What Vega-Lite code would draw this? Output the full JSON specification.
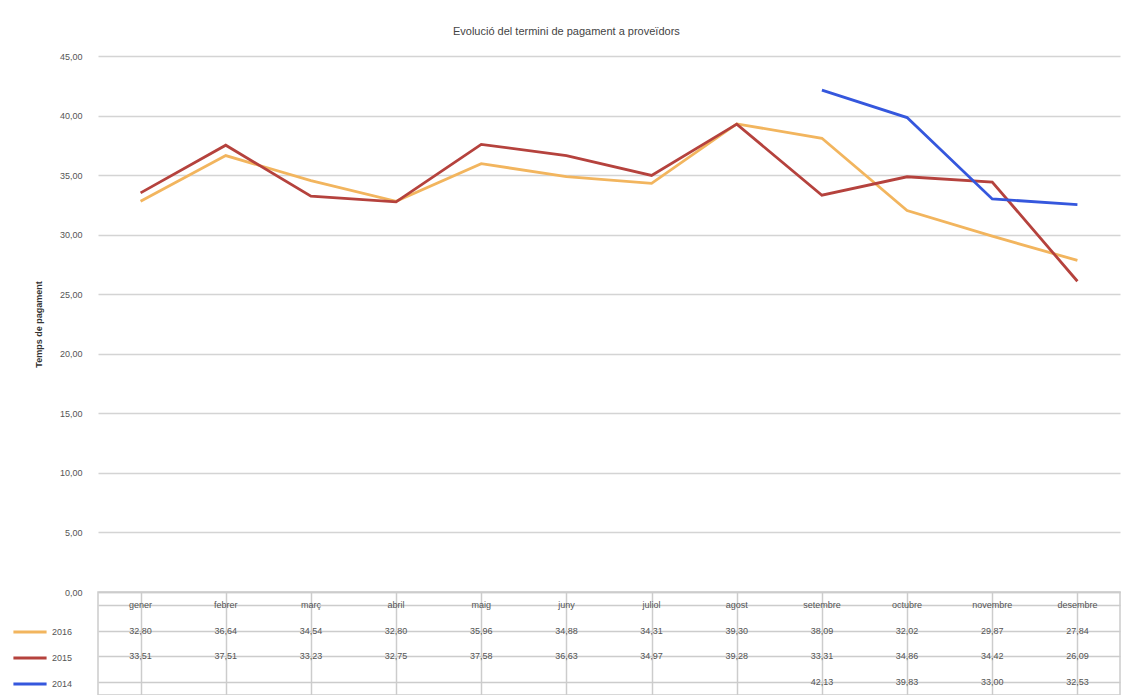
{
  "$schema": "https://vega.github.io/schema/vega-lite/v6.json",
  "background": "white",
  "padding": {"left": 12, "top": 26, "right": 5, "bottom": 0},
  "spacing": 0,
  "bounds": "flush",
  "config": {
    "locale": {"number": {"decimal": ",", "thousands": ".", "grouping": [3], "currency": ["", " €"]}},
    "font": "Liberation Sans",
    "view": {"stroke": null}
  },
  "title": {"text": "Evolució del termini de pagament a proveïdors", "fontSize": 11, "fontWeight": "normal", "color": "#444444", "anchor": "middle", "offset": 15},
  "datasets": {
    "pmp": [
      {"mes": "gener", "any": "2016", "dies": 32.80},
      {"mes": "febrer", "any": "2016", "dies": 36.64},
      {"mes": "març", "any": "2016", "dies": 34.54},
      {"mes": "abril", "any": "2016", "dies": 32.80},
      {"mes": "maig", "any": "2016", "dies": 35.96},
      {"mes": "juny", "any": "2016", "dies": 34.88},
      {"mes": "juliol", "any": "2016", "dies": 34.31},
      {"mes": "agost", "any": "2016", "dies": 39.30},
      {"mes": "setembre", "any": "2016", "dies": 38.09},
      {"mes": "octubre", "any": "2016", "dies": 32.02},
      {"mes": "novembre", "any": "2016", "dies": 29.87},
      {"mes": "desembre", "any": "2016", "dies": 27.84},
      {"mes": "gener", "any": "2015", "dies": 33.51},
      {"mes": "febrer", "any": "2015", "dies": 37.51},
      {"mes": "març", "any": "2015", "dies": 33.23},
      {"mes": "abril", "any": "2015", "dies": 32.75},
      {"mes": "maig", "any": "2015", "dies": 37.58},
      {"mes": "juny", "any": "2015", "dies": 36.63},
      {"mes": "juliol", "any": "2015", "dies": 34.97},
      {"mes": "agost", "any": "2015", "dies": 39.28},
      {"mes": "setembre", "any": "2015", "dies": 33.31},
      {"mes": "octubre", "any": "2015", "dies": 34.86},
      {"mes": "novembre", "any": "2015", "dies": 34.42},
      {"mes": "desembre", "any": "2015", "dies": 26.09},
      {"mes": "setembre", "any": "2014", "dies": 42.13},
      {"mes": "octubre", "any": "2014", "dies": 39.83},
      {"mes": "novembre", "any": "2014", "dies": 33.00},
      {"mes": "desembre", "any": "2014", "dies": 32.53}
    ]
  },
  "vconcat": [
    {
      "width": 1022,
      "height": 536,
      "data": {"name": "pmp"},
      "mark": {"type": "line", "strokeWidth": 2.8},
      "encoding": {
        "x": {
          "field": "mes", "type": "ordinal",
          "sort": ["gener", "febrer", "març", "abril", "maig", "juny", "juliol", "agost", "setembre", "octubre", "novembre", "desembre"],
          "scale": {"paddingInner": 0, "paddingOuter": 0},
          "axis": {"labels": false, "ticks": false, "title": null, "domainColor": "#cccccc", "domainWidth": 1.5, "minExtent": 0, "maxExtent": 0}
        },
        "y": {
          "field": "dies", "type": "quantitative",
          "scale": {"domain": [0, 45], "nice": false},
          "axis": {
            "values": [0, 5, 10, 15, 20, 25, 30, 35, 40, 45],
            "format": ".2f",
            "title": "Temps de pagament",
            "titleFontSize": 9, "titleFontWeight": "bold", "titleColor": "#333333", "titlePadding": 16,
            "labelFontSize": 9, "labelColor": "#555555", "labelPadding": 16,
            "ticks": false, "domain": false,
            "gridColor": "#d4d4d4", "gridWidth": 1.5
          }
        },
        "color": {
          "field": "any", "type": "nominal",
          "scale": {"domain": ["2016", "2015", "2014"], "range": ["#F2B55E", "#B5423D", "#3557DD"]},
          "legend": {
            "orient": "none", "legendX": -86, "legendY": 563,
            "title": null, "symbolType": "stroke", "symbolStrokeWidth": 2.8, "symbolSize": 1100,
            "clipHeight": 26, "rowPadding": 0,
            "labelFontSize": 9, "labelColor": "#555555", "labelOffset": 4
          }
        }
      }
    },
    {
      "width": 1022,
      "height": 103,
      "view": {"stroke": "#cccccc", "strokeWidth": 1.5},
      "data": {"name": "pmp"},
      "encoding": {
        "x": {
          "field": "mes", "type": "ordinal",
          "sort": ["gener", "febrer", "març", "abril", "maig", "juny", "juliol", "agost", "setembre", "octubre", "novembre", "desembre"],
          "scale": {"paddingInner": 0, "paddingOuter": 0},
          "axis": {"labels": false, "ticks": false, "title": null, "domain": false, "grid": true, "bandPosition": 0, "gridColor": "#cccccc", "gridWidth": 1.5, "minExtent": 0, "maxExtent": 0}
        },
        "y": {
          "field": "any", "type": "ordinal",
          "scale": {"domain": ["mes", "2016", "2015", "2014"], "paddingInner": 0, "paddingOuter": 0},
          "axis": {"labels": false, "ticks": false, "title": null, "domain": false, "grid": true, "bandPosition": 0, "gridColor": "#cccccc", "gridWidth": 1.5, "minExtent": 0, "maxExtent": 0}
        }
      },
      "layer": [
        {
          "mark": {"type": "text", "fontSize": 9, "color": "#555555"},
          "encoding": {"text": {"field": "dies", "type": "quantitative", "format": ".2f"}}
        },
        {
          "transform": [{"filter": "datum.any == '2016'"}],
          "mark": {"type": "text", "fontSize": 9, "color": "#555555"},
          "encoding": {"y": {"datum": "mes"}, "text": {"field": "mes", "type": "nominal"}}
        }
      ]
    }
  ]
}
